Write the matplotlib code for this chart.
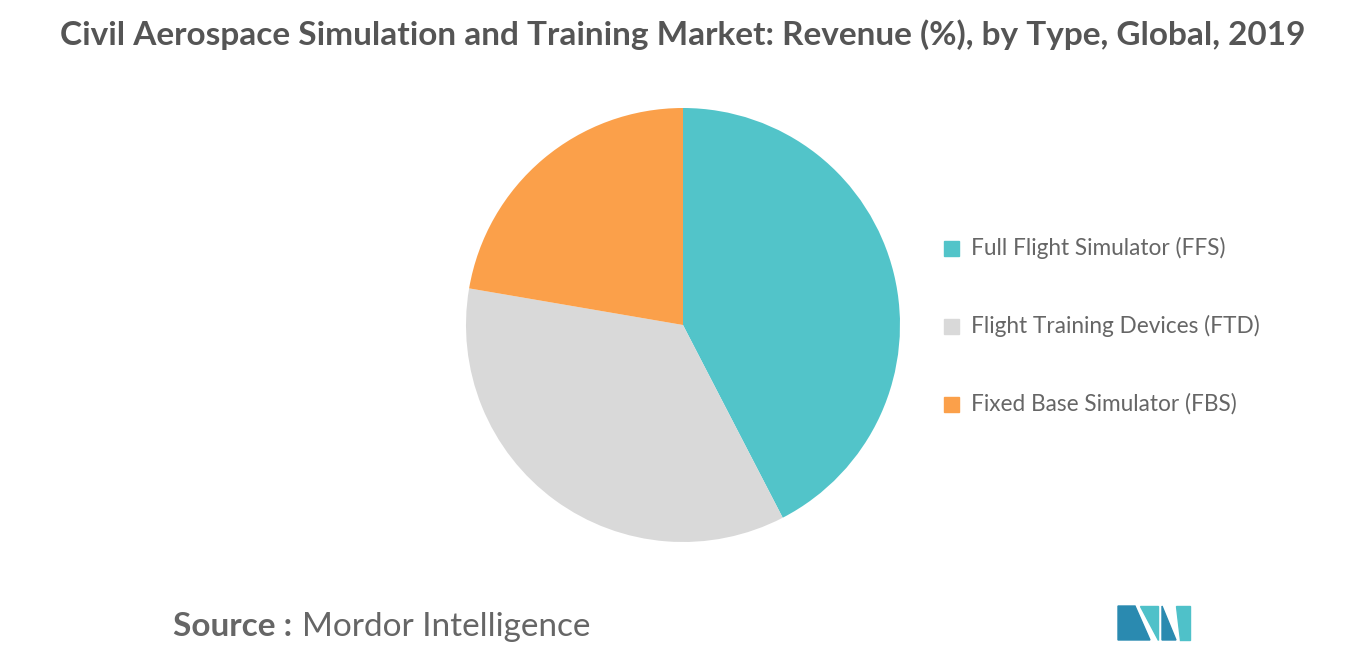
import matplotlib
matplotlib.use("Agg")
import matplotlib.pyplot as plt
from matplotlib.patches import Polygon

labels = ["Full Flight Simulator (FFS)", "Flight Training Devices (FTD)", "Fixed Base Simulator (FBS)"]
values = [42.4, 35.3, 22.3]
colors = ["#52c4c9", "#d9d9d9", "#fba04a"]

fig = plt.figure(figsize=(13.66, 6.55), dpi=100)
ax = fig.add_axes([683/1366 - 217/1366, 1 - (325+217)/655, 434/1366, 434/655])
ax.pie(values, colors=colors, startangle=90, counterclock=False,
       wedgeprops=dict(linewidth=0))
ax.set_xlim(-1, 1); ax.set_ylim(-1, 1)
ax.set_aspect('equal')

fig.text(683/1366, 1 - 35/655, "Civil Aerospace Simulation and Training Market: Revenue (%), by Type, Global, 2019",
         ha='center', va='center', fontsize=24, fontweight='bold', color='#555555', family='Lato')

for i, (lab, c) in enumerate(zip(labels, colors)):
    y = 1 - (248 + i*78)/655
    fig.patches.append(matplotlib.patches.Rectangle((944/1366, y - 8/655), 15/1366, 15/655,
                       transform=fig.transFigure, color=c))
    fig.text(971/1366, y, lab, ha='left', va='center', fontsize=16.3, color='#666666', family='Lato')

fig.text(173/1366, 1 - 627/655, "Source :", ha='left', va='center', fontsize=24, fontweight='bold', color='#666666', family='Lato')
fig.text(302/1366, 1 - 627/655, "Mordor Intelligence", ha='left', va='center', fontsize=24, color='#666666', family='Lato')

def P(pts, c):
    fig.patches.append(Polygon([(x/1366, 1 - y/655) for x, y in pts], closed=True,
                               transform=fig.transFigure, color=c))
P([(1118, 640), (1118, 606), (1135, 606), (1150, 640)], "#2a8ab0")
P([(1140, 606), (1158, 606), (1158, 640)], "#4fc1c9")
P([(1162, 640), (1162, 606), (1176, 640)], "#2a8ab0")
P([(1176, 606), (1190, 606), (1190, 640), (1180, 640)], "#4fc1c9")

fig.savefig("out.png", dpi=100, facecolor='white')
